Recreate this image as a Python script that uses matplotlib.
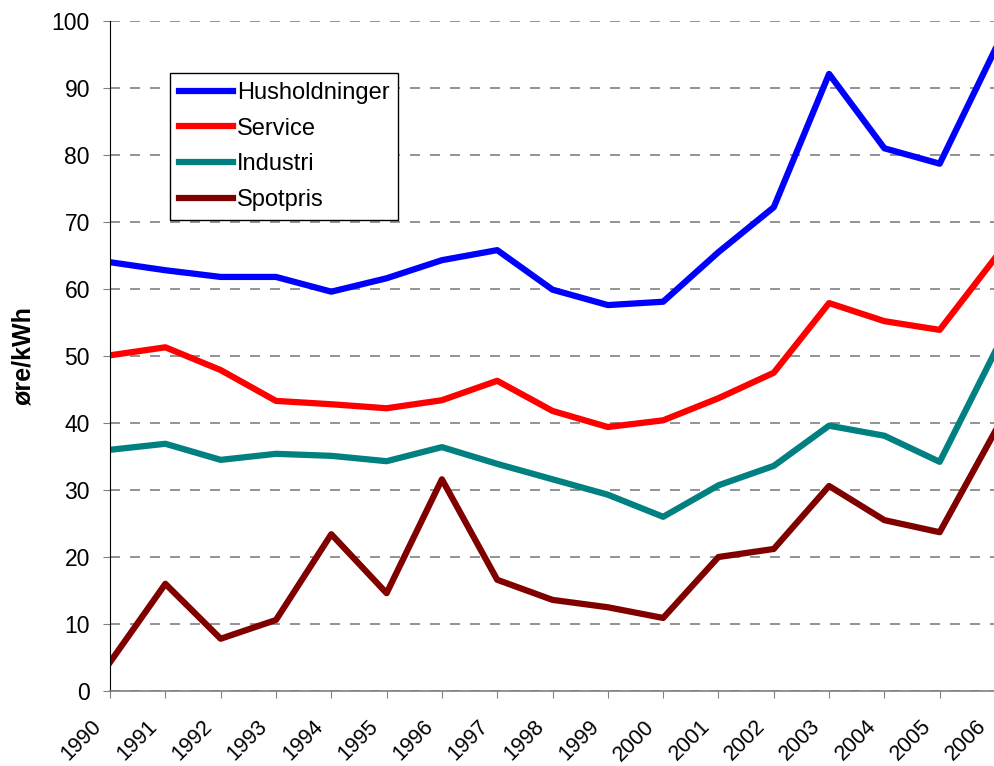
import numpy as np
import matplotlib
matplotlib.use("Agg")
import matplotlib.pyplot as plt
import matplotlib.transforms as mtransforms

plt.rcParams['font.family'] = ['Liberation Sans', 'DejaVu Sans']

years = list(range(1990, 2007))
husholdninger = [64.0, 62.8, 61.8, 61.8, 59.6, 61.6, 64.3, 65.8, 59.9, 57.6, 58.1, 65.5, 72.2, 92.1, 81.0, 78.7, 95.7]
service = [50.1, 51.3, 47.9, 43.3, 42.8, 42.2, 43.4, 46.3, 41.8, 39.4, 40.4, 43.7, 47.5, 57.9, 55.2, 53.9, 64.6]
industri = [36.0, 36.9, 34.5, 35.4, 35.1, 34.3, 36.4, 33.9, 31.6, 29.3, 26.0, 30.7, 33.6, 39.6, 38.1, 34.2, 50.6]
spotpris = [4.3, 16.0, 7.8, 10.6, 23.4, 14.6, 31.6, 16.6, 13.6, 12.5, 10.9, 20.0, 21.2, 30.6, 25.5, 23.7, 38.7]

series = [("Husholdninger", husholdninger, "#0000FF"),
          ("Service", service, "#FF0000"),
          ("Industri", industri, "#008080"),
          ("Spotpris", spotpris, "#800000")]

fig = plt.figure(figsize=(9.95, 7.66), dpi=100)
ax = fig.add_axes([0.1106, 0.0979, 0.8894, 0.8747])

for name, vals, col in series:
    ax.plot(years, vals, color=col, lw=4.5, label=name, solid_joinstyle='round')

ax.set_xlim(1990, 2006)
ax.set_ylim(0, 100)
ax.set_xticks(years)
ax.set_xticklabels([])
# rotated year labels, a bit left of their ticks like the original
offs = mtransforms.ScaledTranslation(-0.19, -0.25, fig.dpi_scale_trans)
for y in years:
    ax.text(y, 0, str(y), transform=ax.get_xaxis_transform() + offs,
            rotation=45, rotation_mode='anchor', ha='right', va='top',
            fontsize=15.5, clip_on=False)
ax.set_yticks(np.arange(0, 101, 10))
ax.tick_params(axis='y', labelsize=16.5, length=5, color='#808080', pad=9.5)
ax.tick_params(axis='x', length=5, color='#808080')

ax.grid(axis='y', color='#808080', linestyle=(0, (6, 6)), lw=1.2)
ax.set_axisbelow(True)
for s in ['top', 'right']:
    ax.spines[s].set_visible(False)
ax.spines['left'].set_color('black')
ax.spines['bottom'].set_color('#808080')
ax.spines['bottom'].set_linewidth(1.2)

ax.set_ylabel("øre/kWh", fontsize=18, fontweight='bold', labelpad=12)

leg = ax.legend(loc='upper left', bbox_to_anchor=(0.068, 0.922), borderaxespad=0,
                fontsize=17, fancybox=False, edgecolor='black', framealpha=1,
                handlelength=2.3, handletextpad=0.15, labelspacing=0.58,
                borderpad=0.37)
leg.get_frame().set_linewidth(1.0)

fig.savefig("out.png", dpi=100)
